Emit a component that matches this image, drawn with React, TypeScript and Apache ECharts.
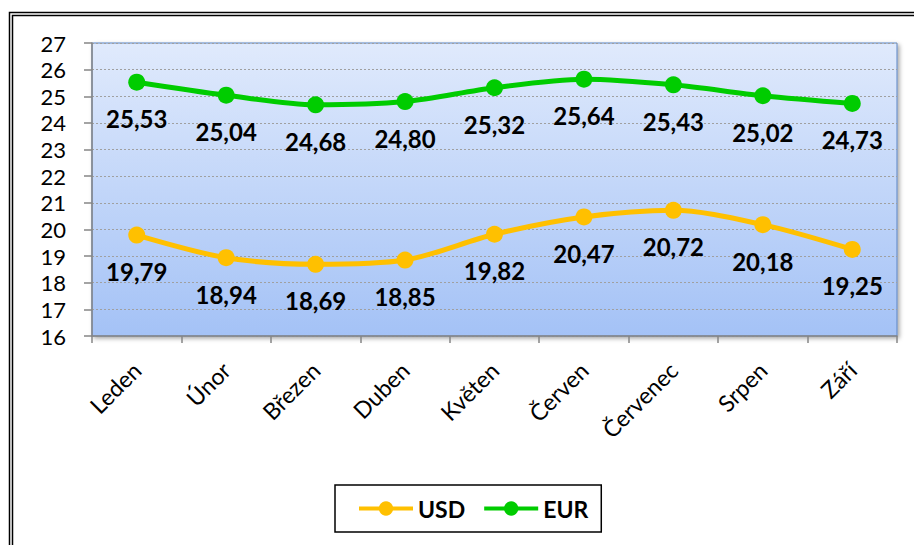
import React, { useEffect, useRef } from "react";
import * as echarts from "echarts";

const months = ["Leden", "Únor", "Březen", "Duben", "Květen", "Červen", "Červenec", "Srpen", "Září"];
const usd = [19.79, 18.94, 18.69, 18.85, 19.82, 20.47, 20.72, 20.18, 19.25];
const eur = [25.53, 25.04, 24.68, 24.8, 25.32, 25.64, 25.43, 25.02, 24.73];

const FONT = "Lato";

export default function App() {
  const ref = useRef<HTMLDivElement>(null);
  useEffect(() => {
    if (!ref.current) return;
    const chart = echarts.init(ref.current, null, { renderer: "svg" });
    const fmt = (p: any) => Number(p.value).toFixed(2).replace(".", ",");
    const label = {
      show: true,
      position: "bottom",
      distance: 16,
      formatter: fmt,
      fontFamily: FONT,
      fontWeight: "bold",
      fontSize: 24,
      color: "#000",
    };
    chart.setOption({
      animation: false,
      backgroundColor: "#fff",
      textStyle: { fontFamily: FONT },
      graphic: [
        { type: "rect", shape: { x: 9.5, y: 12.5, width: 1000, height: 1000 }, style: { fill: "none", stroke: "#000", lineWidth: 1.5 } },
        { type: "rect", shape: { x: 12.5, y: 15.5, width: 1000, height: 1000 }, style: { fill: "none", stroke: "#000", lineWidth: 1.5 } },
      ],
      grid: {
        left: 92,
        top: 43,
        right: 17,
        bottom: 209,
        show: true,
        borderColor: "#5b84c4",
        borderWidth: 1,
        shadowColor: "rgba(0,0,0,0.35)",
        shadowBlur: 4,
        shadowOffsetX: 2,
        shadowOffsetY: 2,
        backgroundColor: {
          type: "linear",
          x: 0, y: 0, x2: 0, y2: 1,
          colorStops: [
            { offset: 0, color: "#e0eafc" },
            { offset: 1, color: "#a4c2f6" },
          ],
        },
      },
      legend: {
        left: 335,
        top: 485,
        padding: [12, 13, 12, 22],
        borderColor: "#000",
        borderWidth: 1.5,
        itemWidth: 54,
        itemHeight: 18,
        itemGap: 17,
        lineStyle: { width: 4 },
        textStyle: { fontFamily: FONT, fontWeight: "bold", fontSize: 23, color: "#000" },
        data: ["USD", "EUR"],
      },
      xAxis: {
        type: "category",
        data: months,
        boundaryGap: true,
        axisLine: { show: true, lineStyle: { color: "#868686", width: 1.5 } },
        axisTick: { show: true, length: 7, alignWithLabel: false, lineStyle: { color: "#868686", width: 1.5 } },
        axisLabel: { rotate: 45, margin: 30, fontFamily: FONT, fontSize: 23, color: "#000", interval: 0 },
        splitLine: { show: false },
      },
      yAxis: {
        type: "value",
        min: 16,
        max: 27,
        interval: 1,
        axisLine: { show: true, lineStyle: { color: "#868686", width: 1.5 } },
        axisTick: { show: true, length: 8, inside: false, lineStyle: { color: "#868686", width: 1.5 } },
        axisLabel: { margin: 26, fontFamily: FONT, fontSize: 22, color: "#000" },
        splitLine: { show: true, lineStyle: { color: "#a0a0a0", type: [2, 2], width: 1 } },
      },
      series: [
        {
          name: "USD",
          type: "line",
          data: usd,
          smooth: 0.3,
          symbol: "circle",
          symbolSize: 17,
          color: "#ffc000",
          lineStyle: { width: 5, color: "#ffc000" },
          itemStyle: { color: "#ffc000" },
          label,
        },
        {
          name: "EUR",
          type: "line",
          data: eur,
          smooth: 0.3,
          symbol: "circle",
          symbolSize: 17,
          color: "#00cc00",
          lineStyle: { width: 5, color: "#00cc00" },
          itemStyle: { color: "#00cc00" },
          label,
        },
      ],
    });
    return () => chart.dispose();
  }, []);
  return <div ref={ref} style={{ position: "fixed", left: 0, top: 0, width: 914, height: 545 }} />;
}
